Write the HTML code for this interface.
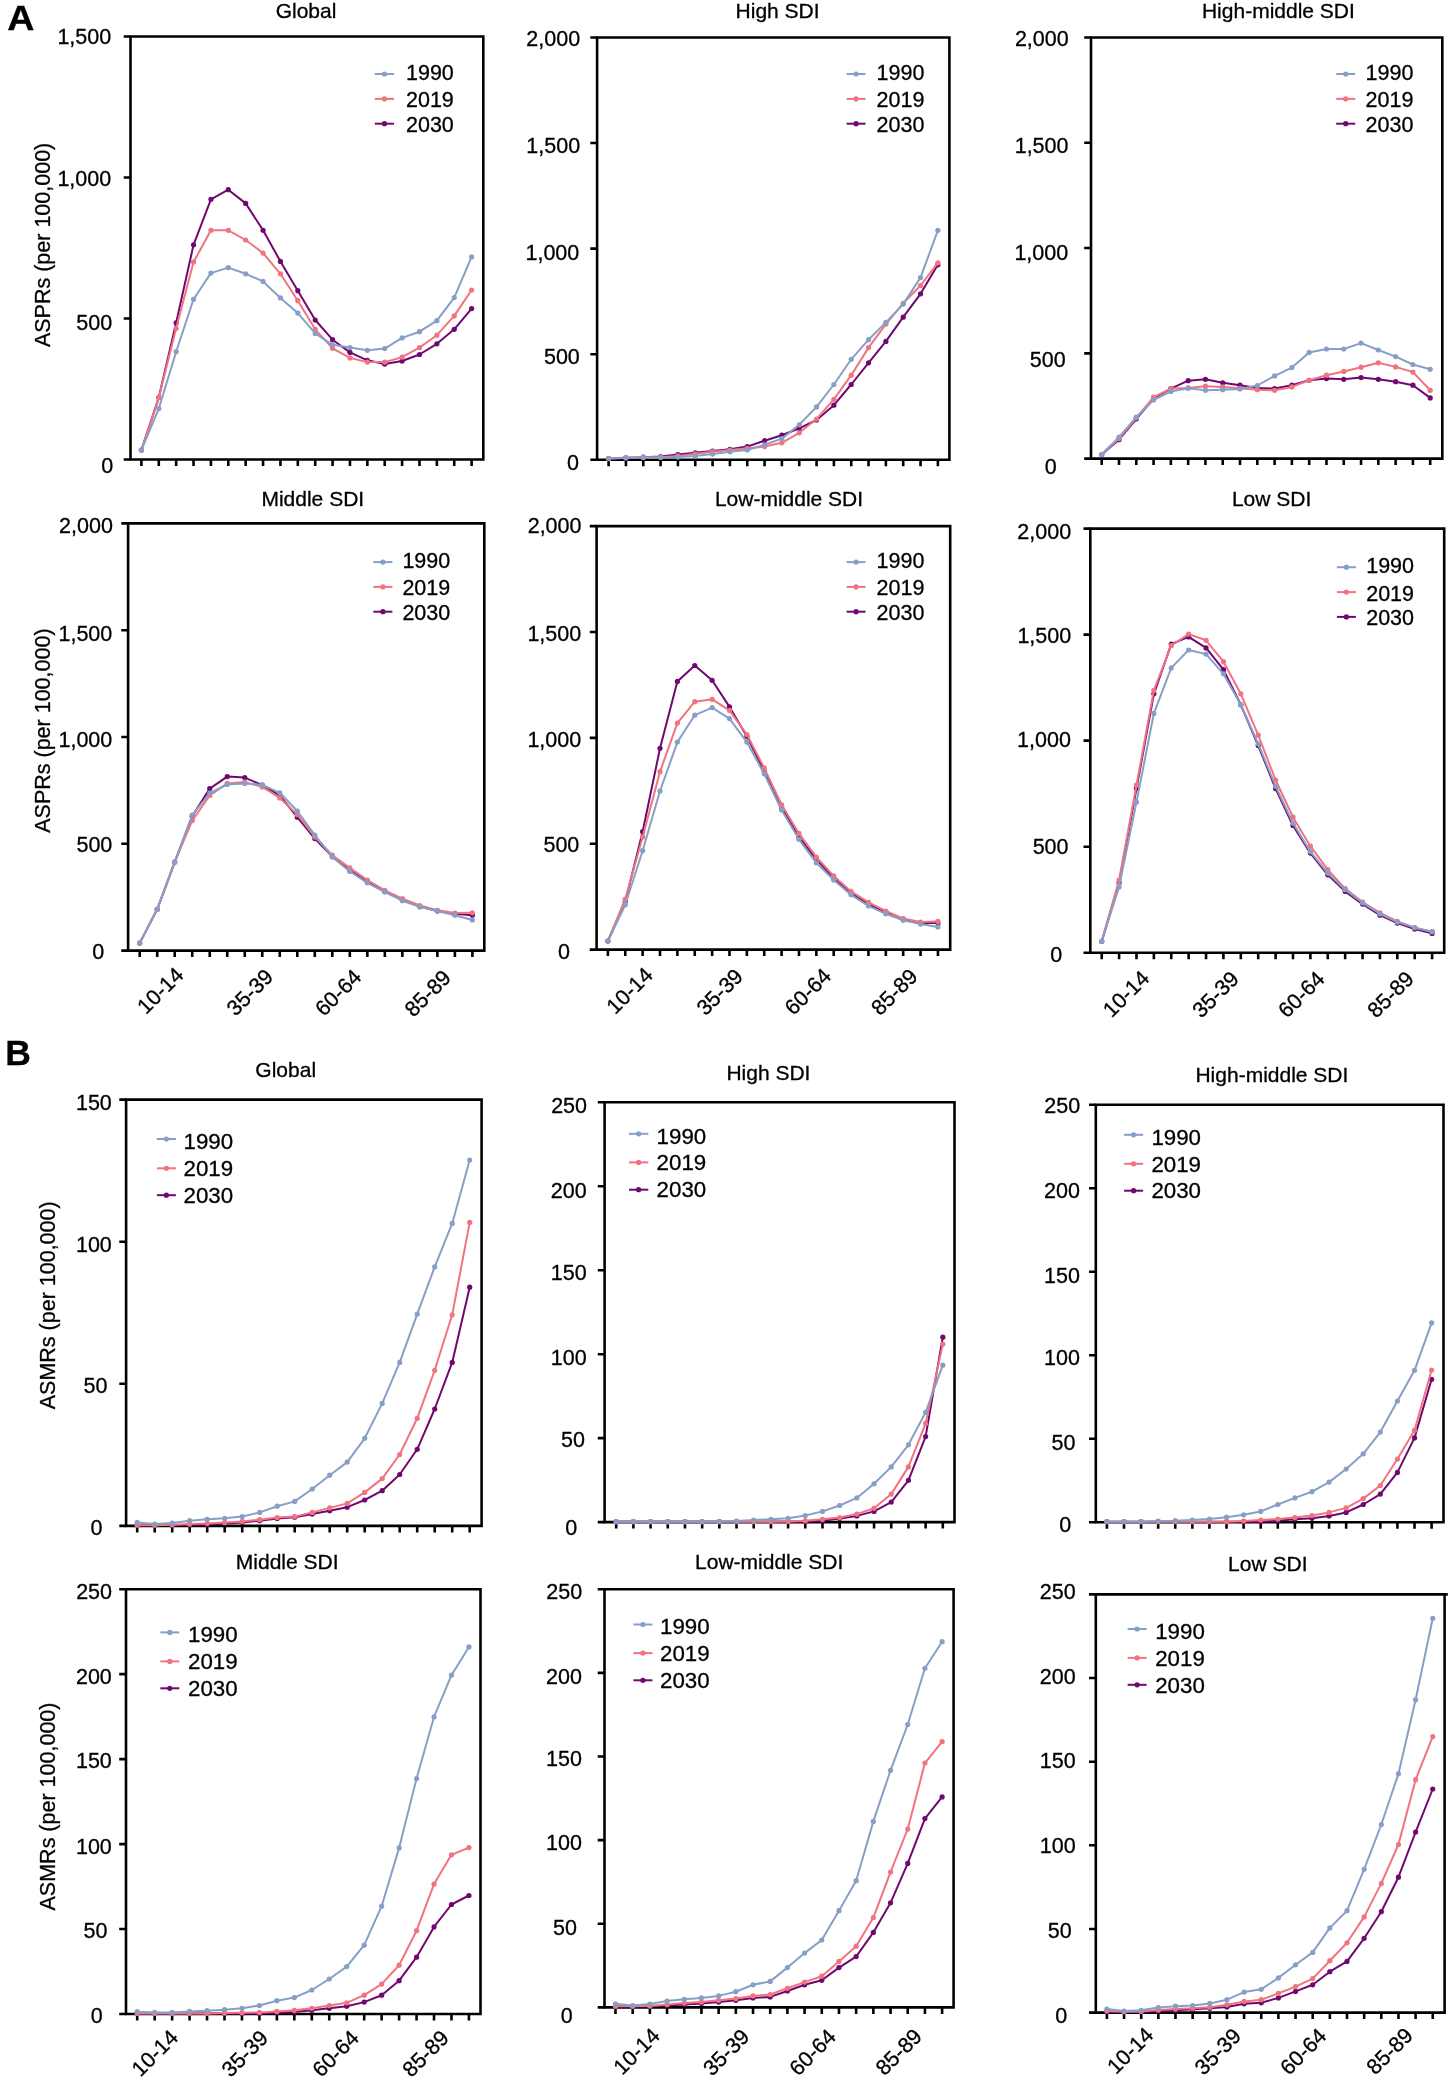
<!DOCTYPE html>
<html><head><meta charset="utf-8"><title>Figure</title>
<style>
html,body{margin:0;padding:0;background:#fff;}
body{width:1450px;height:2082px;overflow:hidden;}
svg{display:block;will-change:transform;}
text{font-family:"Liberation Sans",sans-serif;font-size:21.5px;fill:#000;stroke:#000;stroke-width:0.3px;}
text.big{font-size:35.5px;font-weight:bold;}
.ax{fill:none;stroke:#000;stroke-width:2.6;stroke-linejoin:miter;}
.tk{fill:none;stroke:#000;stroke-width:2.6;}
</style></head><body>
<svg width="1450" height="2082" viewBox="0 0 1450 2082">
<rect width="1450" height="2082" fill="#fff"/>
<text transform="translate(7.3 30) scale(1.06 1)" class="big">A</text>
<text transform="translate(5.3 1064.8)" class="big">B</text>
<text x="306" y="18.4" text-anchor="middle" style="font-size:21px">Global</text>
<path d="M130.5 36.5H483.3V459.5H130.5Z" class="ax"/>
<text x="113.3" y="473.45" text-anchor="end">0</text>
<text x="112.1" y="329.7" text-anchor="end">500</text>
<text x="111.2" y="186.2" text-anchor="end">1,000</text>
<text x="111.2" y="43.8" text-anchor="end">1,500</text>
<path d="M123.7 459.5H130.5M123.7 318.5H130.5M123.7 177.5H130.5M123.7 36.5H130.5M141.4 459.5V466M158.78 459.5V466M176.16 459.5V466M193.54 459.5V466M210.92 459.5V466M228.3 459.5V466M245.68 459.5V466M263.06 459.5V466M280.44 459.5V466M297.82 459.5V466M315.2 459.5V466M332.58 459.5V466M349.96 459.5V466M367.34 459.5V466M384.72 459.5V466M402.1 459.5V466M419.48 459.5V466M436.86 459.5V466M454.24 459.5V466M471.62 459.5V466" class="tk"/>
<text transform="translate(50 244.9) rotate(-90)" text-anchor="middle">ASPRs (per 100,000)</text>
<polyline points="141.4,450 158.78,397.6 176.16,322.8 193.54,244.8 210.92,199.3 228.3,189.7 245.68,203.4 263.06,230.3 280.44,261.4 297.82,290.7 315.2,320 332.58,339.7 349.96,352.4 367.34,360.3 384.72,364.1 402.1,361 419.48,354.5 436.86,343.8 454.24,329.3 471.62,308.6" fill="none" stroke="#700870" stroke-width="2.0" stroke-linejoin="round"/>
<g fill="#700870"><circle cx="141.4" cy="450" r="2.6"/><circle cx="158.78" cy="397.6" r="2.6"/><circle cx="176.16" cy="322.8" r="2.6"/><circle cx="193.54" cy="244.8" r="2.6"/><circle cx="210.92" cy="199.3" r="2.6"/><circle cx="228.3" cy="189.7" r="2.6"/><circle cx="245.68" cy="203.4" r="2.6"/><circle cx="263.06" cy="230.3" r="2.6"/><circle cx="280.44" cy="261.4" r="2.6"/><circle cx="297.82" cy="290.7" r="2.6"/><circle cx="315.2" cy="320" r="2.6"/><circle cx="332.58" cy="339.7" r="2.6"/><circle cx="349.96" cy="352.4" r="2.6"/><circle cx="367.34" cy="360.3" r="2.6"/><circle cx="384.72" cy="364.1" r="2.6"/><circle cx="402.1" cy="361" r="2.6"/><circle cx="419.48" cy="354.5" r="2.6"/><circle cx="436.86" cy="343.8" r="2.6"/><circle cx="454.24" cy="329.3" r="2.6"/><circle cx="471.62" cy="308.6" r="2.6"/></g>
<polyline points="141.4,450 158.78,397.6 176.16,328.3 193.54,262.1 210.92,230.3 228.3,230.3 245.68,240 263.06,253.1 280.44,273.8 297.82,300.7 315.2,329.3 332.58,348.3 349.96,357.9 367.34,362.1 384.72,362.1 402.1,357.2 419.48,347.6 436.86,335.2 454.24,315.9 471.62,290" fill="none" stroke="#f0737f" stroke-width="2.0" stroke-linejoin="round"/>
<g fill="#f0737f"><circle cx="141.4" cy="450" r="2.6"/><circle cx="158.78" cy="397.6" r="2.6"/><circle cx="176.16" cy="328.3" r="2.6"/><circle cx="193.54" cy="262.1" r="2.6"/><circle cx="210.92" cy="230.3" r="2.6"/><circle cx="228.3" cy="230.3" r="2.6"/><circle cx="245.68" cy="240" r="2.6"/><circle cx="263.06" cy="253.1" r="2.6"/><circle cx="280.44" cy="273.8" r="2.6"/><circle cx="297.82" cy="300.7" r="2.6"/><circle cx="315.2" cy="329.3" r="2.6"/><circle cx="332.58" cy="348.3" r="2.6"/><circle cx="349.96" cy="357.9" r="2.6"/><circle cx="367.34" cy="362.1" r="2.6"/><circle cx="384.72" cy="362.1" r="2.6"/><circle cx="402.1" cy="357.2" r="2.6"/><circle cx="419.48" cy="347.6" r="2.6"/><circle cx="436.86" cy="335.2" r="2.6"/><circle cx="454.24" cy="315.9" r="2.6"/><circle cx="471.62" cy="290" r="2.6"/></g>
<polyline points="141.4,450 158.78,408.6 176.16,351.7 193.54,299.3 210.92,273.1 228.3,267.6 245.68,273.8 263.06,281.4 280.44,297.9 297.82,313.1 315.2,333.4 332.58,344.8 349.96,347.6 367.34,350.3 384.72,348.6 402.1,337.9 419.48,331.7 436.86,320.7 454.24,297.6 471.62,256.9" fill="none" stroke="#879fc6" stroke-width="2.0" stroke-linejoin="round"/>
<g fill="#879fc6"><circle cx="141.4" cy="450" r="2.6"/><circle cx="158.78" cy="408.6" r="2.6"/><circle cx="176.16" cy="351.7" r="2.6"/><circle cx="193.54" cy="299.3" r="2.6"/><circle cx="210.92" cy="273.1" r="2.6"/><circle cx="228.3" cy="267.6" r="2.6"/><circle cx="245.68" cy="273.8" r="2.6"/><circle cx="263.06" cy="281.4" r="2.6"/><circle cx="280.44" cy="297.9" r="2.6"/><circle cx="297.82" cy="313.1" r="2.6"/><circle cx="315.2" cy="333.4" r="2.6"/><circle cx="332.58" cy="344.8" r="2.6"/><circle cx="349.96" cy="347.6" r="2.6"/><circle cx="367.34" cy="350.3" r="2.6"/><circle cx="384.72" cy="348.6" r="2.6"/><circle cx="402.1" cy="337.9" r="2.6"/><circle cx="419.48" cy="331.7" r="2.6"/><circle cx="436.86" cy="320.7" r="2.6"/><circle cx="454.24" cy="297.6" r="2.6"/><circle cx="471.62" cy="256.9" r="2.6"/></g>
<path d="M374.8 74H394.1" stroke="#879fc6" stroke-width="2.0"/>
<circle cx="384.45" cy="74" r="2.6" fill="#879fc6"/>
<text x="406" y="80.1" style="font-size:21.5px">1990</text>
<path d="M374.8 98.9H394.1" stroke="#f0737f" stroke-width="2.0"/>
<circle cx="384.45" cy="98.9" r="2.6" fill="#f0737f"/>
<text x="406" y="107.4" style="font-size:21.5px">2019</text>
<path d="M374.8 123.7H394.1" stroke="#700870" stroke-width="2.0"/>
<circle cx="384.45" cy="123.7" r="2.6" fill="#700870"/>
<text x="406" y="131.6" style="font-size:21.5px">2030</text>
<text x="777.6" y="18.4" text-anchor="middle" style="font-size:21px">High SDI</text>
<path d="M597.1 37.5H949.4V459.8H597.1Z" class="ax"/>
<text x="579" y="469.7" text-anchor="end">0</text>
<text x="579.8" y="363.6" text-anchor="end">500</text>
<text x="579.3" y="259.5" text-anchor="end">1,000</text>
<text x="580.1" y="152.7" text-anchor="end">1,500</text>
<text x="580.1" y="45.65" text-anchor="end">2,000</text>
<path d="M590.3 459.8H597.1M590.3 354.23H597.1M590.3 248.65H597.1M590.3 143.07H597.1M590.3 37.5H597.1M608.6 459.8V466.3M625.93 459.8V466.3M643.26 459.8V466.3M660.59 459.8V466.3M677.92 459.8V466.3M695.25 459.8V466.3M712.58 459.8V466.3M729.91 459.8V466.3M747.24 459.8V466.3M764.57 459.8V466.3M781.9 459.8V466.3M799.23 459.8V466.3M816.56 459.8V466.3M833.89 459.8V466.3M851.22 459.8V466.3M868.55 459.8V466.3M885.88 459.8V466.3M903.21 459.8V466.3M920.54 459.8V466.3M937.87 459.8V466.3" class="tk"/>
<polyline points="608.6,458.6 625.93,457.9 643.26,457.2 660.59,456.6 677.92,454.5 695.25,452.8 712.58,451 729.91,449.3 747.24,446.6 764.57,440.7 781.9,435.2 799.23,428.3 816.56,420 833.89,405.2 851.22,384.5 868.55,362.8 885.88,341.4 903.21,317.2 920.54,293.8 937.87,264.8" fill="none" stroke="#700870" stroke-width="2.0" stroke-linejoin="round"/>
<g fill="#700870"><circle cx="608.6" cy="458.6" r="2.6"/><circle cx="625.93" cy="457.9" r="2.6"/><circle cx="643.26" cy="457.2" r="2.6"/><circle cx="660.59" cy="456.6" r="2.6"/><circle cx="677.92" cy="454.5" r="2.6"/><circle cx="695.25" cy="452.8" r="2.6"/><circle cx="712.58" cy="451" r="2.6"/><circle cx="729.91" cy="449.3" r="2.6"/><circle cx="747.24" cy="446.6" r="2.6"/><circle cx="764.57" cy="440.7" r="2.6"/><circle cx="781.9" cy="435.2" r="2.6"/><circle cx="799.23" cy="428.3" r="2.6"/><circle cx="816.56" cy="420" r="2.6"/><circle cx="833.89" cy="405.2" r="2.6"/><circle cx="851.22" cy="384.5" r="2.6"/><circle cx="868.55" cy="362.8" r="2.6"/><circle cx="885.88" cy="341.4" r="2.6"/><circle cx="903.21" cy="317.2" r="2.6"/><circle cx="920.54" cy="293.8" r="2.6"/><circle cx="937.87" cy="264.8" r="2.6"/></g>
<polyline points="608.6,458.6 625.93,457.9 643.26,457.6 660.59,457.2 677.92,455.9 695.25,453.8 712.58,451.7 729.91,450 747.24,448.3 764.57,446.6 781.9,442.8 799.23,432.8 816.56,419 833.89,399.3 851.22,375.2 868.55,347.6 885.88,324.1 903.21,303.4 920.54,285.5 937.87,262.8" fill="none" stroke="#f0737f" stroke-width="2.0" stroke-linejoin="round"/>
<g fill="#f0737f"><circle cx="608.6" cy="458.6" r="2.6"/><circle cx="625.93" cy="457.9" r="2.6"/><circle cx="643.26" cy="457.6" r="2.6"/><circle cx="660.59" cy="457.2" r="2.6"/><circle cx="677.92" cy="455.9" r="2.6"/><circle cx="695.25" cy="453.8" r="2.6"/><circle cx="712.58" cy="451.7" r="2.6"/><circle cx="729.91" cy="450" r="2.6"/><circle cx="747.24" cy="448.3" r="2.6"/><circle cx="764.57" cy="446.6" r="2.6"/><circle cx="781.9" cy="442.8" r="2.6"/><circle cx="799.23" cy="432.8" r="2.6"/><circle cx="816.56" cy="419" r="2.6"/><circle cx="833.89" cy="399.3" r="2.6"/><circle cx="851.22" cy="375.2" r="2.6"/><circle cx="868.55" cy="347.6" r="2.6"/><circle cx="885.88" cy="324.1" r="2.6"/><circle cx="903.21" cy="303.4" r="2.6"/><circle cx="920.54" cy="285.5" r="2.6"/><circle cx="937.87" cy="262.8" r="2.6"/></g>
<polyline points="608.6,458.6 625.93,457.6 643.26,457.2 660.59,457.2 677.92,456.9 695.25,455.9 712.58,454.1 729.91,451.7 747.24,450 764.57,444.8 781.9,438.6 799.23,424.8 816.56,406.9 833.89,384.5 851.22,359.3 868.55,339.7 885.88,322.4 903.21,304.1 920.54,277.6 937.87,230.3" fill="none" stroke="#879fc6" stroke-width="2.0" stroke-linejoin="round"/>
<g fill="#879fc6"><circle cx="608.6" cy="458.6" r="2.6"/><circle cx="625.93" cy="457.6" r="2.6"/><circle cx="643.26" cy="457.2" r="2.6"/><circle cx="660.59" cy="457.2" r="2.6"/><circle cx="677.92" cy="456.9" r="2.6"/><circle cx="695.25" cy="455.9" r="2.6"/><circle cx="712.58" cy="454.1" r="2.6"/><circle cx="729.91" cy="451.7" r="2.6"/><circle cx="747.24" cy="450" r="2.6"/><circle cx="764.57" cy="444.8" r="2.6"/><circle cx="781.9" cy="438.6" r="2.6"/><circle cx="799.23" cy="424.8" r="2.6"/><circle cx="816.56" cy="406.9" r="2.6"/><circle cx="833.89" cy="384.5" r="2.6"/><circle cx="851.22" cy="359.3" r="2.6"/><circle cx="868.55" cy="339.7" r="2.6"/><circle cx="885.88" cy="322.4" r="2.6"/><circle cx="903.21" cy="304.1" r="2.6"/><circle cx="920.54" cy="277.6" r="2.6"/><circle cx="937.87" cy="230.3" r="2.6"/></g>
<path d="M846.6 74H865.5" stroke="#879fc6" stroke-width="2.0"/>
<circle cx="856.05" cy="74" r="2.6" fill="#879fc6"/>
<text x="876.6" y="80.1" style="font-size:21.5px">1990</text>
<path d="M846.6 98.9H865.5" stroke="#f0737f" stroke-width="2.0"/>
<circle cx="856.05" cy="98.9" r="2.6" fill="#f0737f"/>
<text x="876.6" y="107.4" style="font-size:21.5px">2019</text>
<path d="M846.6 123.7H865.5" stroke="#700870" stroke-width="2.0"/>
<circle cx="856.05" cy="123.7" r="2.6" fill="#700870"/>
<text x="876.6" y="131.6" style="font-size:21.5px">2030</text>
<text x="1278.4" y="18.4" text-anchor="middle" style="font-size:21px">High-middle SDI</text>
<path d="M1091 37.5H1442.3V458.6H1091Z" class="ax"/>
<text x="1056.7" y="474.2" text-anchor="end">0</text>
<text x="1065.7" y="366.7" text-anchor="end">500</text>
<text x="1068.2" y="259.7" text-anchor="end">1,000</text>
<text x="1068.5" y="152.8" text-anchor="end">1,500</text>
<text x="1068.7" y="45.65" text-anchor="end">2,000</text>
<path d="M1084.2 458.6H1091M1084.2 353.33H1091M1084.2 248.05H1091M1084.2 142.78H1091M1084.2 37.5H1091M1101.7 458.6V465.1M1118.99 458.6V465.1M1136.28 458.6V465.1M1153.57 458.6V465.1M1170.86 458.6V465.1M1188.15 458.6V465.1M1205.44 458.6V465.1M1222.73 458.6V465.1M1240.02 458.6V465.1M1257.31 458.6V465.1M1274.6 458.6V465.1M1291.89 458.6V465.1M1309.18 458.6V465.1M1326.47 458.6V465.1M1343.76 458.6V465.1M1361.05 458.6V465.1M1378.34 458.6V465.1M1395.63 458.6V465.1M1412.92 458.6V465.1M1430.21 458.6V465.1" class="tk"/>
<polyline points="1101.7,454.5 1118.99,439.7 1136.28,419 1153.57,398.3 1170.86,388.6 1188.15,380.7 1205.44,379.3 1222.73,382.8 1240.02,385.2 1257.31,387.9 1274.6,388.6 1291.89,385.2 1309.18,380.3 1326.47,378.6 1343.76,379.3 1361.05,377.6 1378.34,379.3 1395.63,381.7 1412.92,385.2 1430.21,397.9" fill="none" stroke="#700870" stroke-width="2.0" stroke-linejoin="round"/>
<g fill="#700870"><circle cx="1101.7" cy="454.5" r="2.6"/><circle cx="1118.99" cy="439.7" r="2.6"/><circle cx="1136.28" cy="419" r="2.6"/><circle cx="1153.57" cy="398.3" r="2.6"/><circle cx="1170.86" cy="388.6" r="2.6"/><circle cx="1188.15" cy="380.7" r="2.6"/><circle cx="1205.44" cy="379.3" r="2.6"/><circle cx="1222.73" cy="382.8" r="2.6"/><circle cx="1240.02" cy="385.2" r="2.6"/><circle cx="1257.31" cy="387.9" r="2.6"/><circle cx="1274.6" cy="388.6" r="2.6"/><circle cx="1291.89" cy="385.2" r="2.6"/><circle cx="1309.18" cy="380.3" r="2.6"/><circle cx="1326.47" cy="378.6" r="2.6"/><circle cx="1343.76" cy="379.3" r="2.6"/><circle cx="1361.05" cy="377.6" r="2.6"/><circle cx="1378.34" cy="379.3" r="2.6"/><circle cx="1395.63" cy="381.7" r="2.6"/><circle cx="1412.92" cy="385.2" r="2.6"/><circle cx="1430.21" cy="397.9" r="2.6"/></g>
<polyline points="1101.7,454.5 1118.99,438.6 1136.28,417.9 1153.57,397.2 1170.86,388.6 1188.15,387.9 1205.44,386.2 1222.73,386.9 1240.02,388.3 1257.31,389.7 1274.6,390.3 1291.89,386.9 1309.18,380.3 1326.47,375.2 1343.76,371.4 1361.05,367.2 1378.34,362.8 1395.63,366.9 1412.92,372.1 1430.21,390.3" fill="none" stroke="#f0737f" stroke-width="2.0" stroke-linejoin="round"/>
<g fill="#f0737f"><circle cx="1101.7" cy="454.5" r="2.6"/><circle cx="1118.99" cy="438.6" r="2.6"/><circle cx="1136.28" cy="417.9" r="2.6"/><circle cx="1153.57" cy="397.2" r="2.6"/><circle cx="1170.86" cy="388.6" r="2.6"/><circle cx="1188.15" cy="387.9" r="2.6"/><circle cx="1205.44" cy="386.2" r="2.6"/><circle cx="1222.73" cy="386.9" r="2.6"/><circle cx="1240.02" cy="388.3" r="2.6"/><circle cx="1257.31" cy="389.7" r="2.6"/><circle cx="1274.6" cy="390.3" r="2.6"/><circle cx="1291.89" cy="386.9" r="2.6"/><circle cx="1309.18" cy="380.3" r="2.6"/><circle cx="1326.47" cy="375.2" r="2.6"/><circle cx="1343.76" cy="371.4" r="2.6"/><circle cx="1361.05" cy="367.2" r="2.6"/><circle cx="1378.34" cy="362.8" r="2.6"/><circle cx="1395.63" cy="366.9" r="2.6"/><circle cx="1412.92" cy="372.1" r="2.6"/><circle cx="1430.21" cy="390.3" r="2.6"/></g>
<polyline points="1101.7,454.5 1118.99,437.2 1136.28,417.2 1153.57,400 1170.86,391.4 1188.15,388.3 1205.44,390.3 1222.73,389.7 1240.02,389 1257.31,385.5 1274.6,375.9 1291.89,367.6 1309.18,352.4 1326.47,349 1343.76,349 1361.05,343.1 1378.34,350 1395.63,356.6 1412.92,364.5 1430.21,369.3" fill="none" stroke="#879fc6" stroke-width="2.0" stroke-linejoin="round"/>
<g fill="#879fc6"><circle cx="1101.7" cy="454.5" r="2.6"/><circle cx="1118.99" cy="437.2" r="2.6"/><circle cx="1136.28" cy="417.2" r="2.6"/><circle cx="1153.57" cy="400" r="2.6"/><circle cx="1170.86" cy="391.4" r="2.6"/><circle cx="1188.15" cy="388.3" r="2.6"/><circle cx="1205.44" cy="390.3" r="2.6"/><circle cx="1222.73" cy="389.7" r="2.6"/><circle cx="1240.02" cy="389" r="2.6"/><circle cx="1257.31" cy="385.5" r="2.6"/><circle cx="1274.6" cy="375.9" r="2.6"/><circle cx="1291.89" cy="367.6" r="2.6"/><circle cx="1309.18" cy="352.4" r="2.6"/><circle cx="1326.47" cy="349" r="2.6"/><circle cx="1343.76" cy="349" r="2.6"/><circle cx="1361.05" cy="343.1" r="2.6"/><circle cx="1378.34" cy="350" r="2.6"/><circle cx="1395.63" cy="356.6" r="2.6"/><circle cx="1412.92" cy="364.5" r="2.6"/><circle cx="1430.21" cy="369.3" r="2.6"/></g>
<path d="M1336.2 74H1355.2" stroke="#879fc6" stroke-width="2.0"/>
<circle cx="1345.7" cy="74" r="2.6" fill="#879fc6"/>
<text x="1365.6" y="80.1" style="font-size:21.5px">1990</text>
<path d="M1336.2 98.9H1355.2" stroke="#f0737f" stroke-width="2.0"/>
<circle cx="1345.7" cy="98.9" r="2.6" fill="#f0737f"/>
<text x="1365.6" y="107.4" style="font-size:21.5px">2019</text>
<path d="M1336.2 123.7H1355.2" stroke="#700870" stroke-width="2.0"/>
<circle cx="1345.7" cy="123.7" r="2.6" fill="#700870"/>
<text x="1365.6" y="131.6" style="font-size:21.5px">2030</text>
<text x="312.8" y="505.7" text-anchor="middle" style="font-size:21px">Middle SDI</text>
<path d="M128.1 523.4H484.3V950.6H128.1Z" class="ax"/>
<text x="104.2" y="959.3" text-anchor="end">0</text>
<text x="112.3" y="852" text-anchor="end">500</text>
<text x="112.3" y="747.3" text-anchor="end">1,000</text>
<text x="112.3" y="640.7" text-anchor="end">1,500</text>
<text x="112.9" y="533.2" text-anchor="end">2,000</text>
<path d="M121.3 950.6H128.1M121.3 843.8H128.1M121.3 737H128.1M121.3 630.2H128.1M121.3 523.4H128.1M139.7 950.6V957.1M157.21 950.6V957.1M174.72 950.6V957.1M192.23 950.6V957.1M209.74 950.6V957.1M227.25 950.6V957.1M244.76 950.6V957.1M262.27 950.6V957.1M279.78 950.6V957.1M297.29 950.6V957.1M314.8 950.6V957.1M332.31 950.6V957.1M349.82 950.6V957.1M367.33 950.6V957.1M384.84 950.6V957.1M402.35 950.6V957.1M419.86 950.6V957.1M437.37 950.6V957.1M454.88 950.6V957.1M472.39 950.6V957.1" class="tk"/>
<text transform="translate(50 730.6) rotate(-90)" text-anchor="middle">ASPRs (per 100,000)</text>
<text transform="translate(184.95 976.25) rotate(-45)" text-anchor="end">10-14</text>
<text transform="translate(274.45 978.15) rotate(-45)" text-anchor="end">35-39</text>
<text transform="translate(362.8 978.4) rotate(-45)" text-anchor="end">60-64</text>
<text transform="translate(452.3 979.1) rotate(-45)" text-anchor="end">85-89</text>
<polyline points="139.7,943.1 157.21,909.3 174.72,862.1 192.23,816.2 209.74,788.6 227.25,776.6 244.76,777.6 262.27,785.2 279.78,795.5 297.29,817.2 314.8,838.6 332.31,856.6 349.82,870.3 367.33,881.7 384.84,891.4 402.35,899.7 419.86,906.6 437.37,911 454.88,913.8 472.39,915.2" fill="none" stroke="#700870" stroke-width="2.0" stroke-linejoin="round"/>
<g fill="#700870"><circle cx="139.7" cy="943.1" r="2.6"/><circle cx="157.21" cy="909.3" r="2.6"/><circle cx="174.72" cy="862.1" r="2.6"/><circle cx="192.23" cy="816.2" r="2.6"/><circle cx="209.74" cy="788.6" r="2.6"/><circle cx="227.25" cy="776.6" r="2.6"/><circle cx="244.76" cy="777.6" r="2.6"/><circle cx="262.27" cy="785.2" r="2.6"/><circle cx="279.78" cy="795.5" r="2.6"/><circle cx="297.29" cy="817.2" r="2.6"/><circle cx="314.8" cy="838.6" r="2.6"/><circle cx="332.31" cy="856.6" r="2.6"/><circle cx="349.82" cy="870.3" r="2.6"/><circle cx="367.33" cy="881.7" r="2.6"/><circle cx="384.84" cy="891.4" r="2.6"/><circle cx="402.35" cy="899.7" r="2.6"/><circle cx="419.86" cy="906.6" r="2.6"/><circle cx="437.37" cy="911" r="2.6"/><circle cx="454.88" cy="913.8" r="2.6"/><circle cx="472.39" cy="915.2" r="2.6"/></g>
<polyline points="139.7,943.1 157.21,909.3 174.72,862.1 192.23,820.7 209.74,795.5 227.25,783.4 244.76,782.1 262.27,786.9 279.78,797.9 297.29,814.5 314.8,836.9 332.31,855.2 349.82,867.9 367.33,880 384.84,890.3 402.35,898.6 419.86,905.5 437.37,910.3 454.88,913.1 472.39,912.8" fill="none" stroke="#f0737f" stroke-width="2.0" stroke-linejoin="round"/>
<g fill="#f0737f"><circle cx="139.7" cy="943.1" r="2.6"/><circle cx="157.21" cy="909.3" r="2.6"/><circle cx="174.72" cy="862.1" r="2.6"/><circle cx="192.23" cy="820.7" r="2.6"/><circle cx="209.74" cy="795.5" r="2.6"/><circle cx="227.25" cy="783.4" r="2.6"/><circle cx="244.76" cy="782.1" r="2.6"/><circle cx="262.27" cy="786.9" r="2.6"/><circle cx="279.78" cy="797.9" r="2.6"/><circle cx="297.29" cy="814.5" r="2.6"/><circle cx="314.8" cy="836.9" r="2.6"/><circle cx="332.31" cy="855.2" r="2.6"/><circle cx="349.82" cy="867.9" r="2.6"/><circle cx="367.33" cy="880" r="2.6"/><circle cx="384.84" cy="890.3" r="2.6"/><circle cx="402.35" cy="898.6" r="2.6"/><circle cx="419.86" cy="905.5" r="2.6"/><circle cx="437.37" cy="910.3" r="2.6"/><circle cx="454.88" cy="913.1" r="2.6"/><circle cx="472.39" cy="912.8" r="2.6"/></g>
<polyline points="139.7,943.1 157.21,909.3 174.72,862.1 192.23,815.2 209.74,793.1 227.25,784.5 244.76,783.4 262.27,784.8 279.78,792.8 297.29,811 314.8,835.2 332.31,856.9 349.82,871.4 367.33,882.8 384.84,892.1 402.35,900.7 419.86,906.9 437.37,911 454.88,915.2 472.39,920" fill="none" stroke="#879fc6" stroke-width="2.0" stroke-linejoin="round"/>
<g fill="#879fc6"><circle cx="139.7" cy="943.1" r="2.6"/><circle cx="157.21" cy="909.3" r="2.6"/><circle cx="174.72" cy="862.1" r="2.6"/><circle cx="192.23" cy="815.2" r="2.6"/><circle cx="209.74" cy="793.1" r="2.6"/><circle cx="227.25" cy="784.5" r="2.6"/><circle cx="244.76" cy="783.4" r="2.6"/><circle cx="262.27" cy="784.8" r="2.6"/><circle cx="279.78" cy="792.8" r="2.6"/><circle cx="297.29" cy="811" r="2.6"/><circle cx="314.8" cy="835.2" r="2.6"/><circle cx="332.31" cy="856.9" r="2.6"/><circle cx="349.82" cy="871.4" r="2.6"/><circle cx="367.33" cy="882.8" r="2.6"/><circle cx="384.84" cy="892.1" r="2.6"/><circle cx="402.35" cy="900.7" r="2.6"/><circle cx="419.86" cy="906.9" r="2.6"/><circle cx="437.37" cy="911" r="2.6"/><circle cx="454.88" cy="915.2" r="2.6"/><circle cx="472.39" cy="920" r="2.6"/></g>
<path d="M373.4 562.1H392.4" stroke="#879fc6" stroke-width="2.0"/>
<circle cx="382.9" cy="562.1" r="2.6" fill="#879fc6"/>
<text x="402.4" y="568.2" style="font-size:21.5px">1990</text>
<path d="M373.4 586.9H392.4" stroke="#f0737f" stroke-width="2.0"/>
<circle cx="382.9" cy="586.9" r="2.6" fill="#f0737f"/>
<text x="402.4" y="595.4" style="font-size:21.5px">2019</text>
<path d="M373.4 611.7H392.4" stroke="#700870" stroke-width="2.0"/>
<circle cx="382.9" cy="611.7" r="2.6" fill="#700870"/>
<text x="402.4" y="619.6" style="font-size:21.5px">2030</text>
<text x="789" y="505.7" text-anchor="middle" style="font-size:21px">Low-middle SDI</text>
<path d="M596.6 526.1H950.2V949.6H596.6Z" class="ax"/>
<text x="570" y="959.2" text-anchor="end">0</text>
<text x="579.3" y="852" text-anchor="end">500</text>
<text x="581.2" y="747.3" text-anchor="end">1,000</text>
<text x="581.2" y="640.7" text-anchor="end">1,500</text>
<text x="581.5" y="533.2" text-anchor="end">2,000</text>
<path d="M589.8 949.6H596.6M589.8 843.73H596.6M589.8 737.85H596.6M589.8 631.98H596.6M589.8 526.1H596.6M607.9 949.6V956.1M625.27 949.6V956.1M642.64 949.6V956.1M660.01 949.6V956.1M677.38 949.6V956.1M694.75 949.6V956.1M712.12 949.6V956.1M729.49 949.6V956.1M746.86 949.6V956.1M764.23 949.6V956.1M781.6 949.6V956.1M798.97 949.6V956.1M816.34 949.6V956.1M833.71 949.6V956.1M851.08 949.6V956.1M868.45 949.6V956.1M885.82 949.6V956.1M903.19 949.6V956.1M920.56 949.6V956.1M937.93 949.6V956.1" class="tk"/>
<text transform="translate(654.2 976.3) rotate(-45)" text-anchor="end">10-14</text>
<text transform="translate(744.3 977.7) rotate(-45)" text-anchor="end">35-39</text>
<text transform="translate(832.4 977.3) rotate(-45)" text-anchor="end">60-64</text>
<text transform="translate(918.9 977.7) rotate(-45)" text-anchor="end">85-89</text>
<polyline points="607.9,941 625.27,901.4 642.64,831.7 660.01,748.3 677.38,681.4 694.75,665.5 712.12,680.3 729.49,706.9 746.86,736.2 764.23,771.4 781.6,807.6 798.97,836.9 816.34,859.3 833.71,878.3 851.08,893.1 868.45,904.1 885.82,912.1 903.19,919 920.56,923.1 937.93,923.1" fill="none" stroke="#700870" stroke-width="2.0" stroke-linejoin="round"/>
<g fill="#700870"><circle cx="607.9" cy="941" r="2.6"/><circle cx="625.27" cy="901.4" r="2.6"/><circle cx="642.64" cy="831.7" r="2.6"/><circle cx="660.01" cy="748.3" r="2.6"/><circle cx="677.38" cy="681.4" r="2.6"/><circle cx="694.75" cy="665.5" r="2.6"/><circle cx="712.12" cy="680.3" r="2.6"/><circle cx="729.49" cy="706.9" r="2.6"/><circle cx="746.86" cy="736.2" r="2.6"/><circle cx="764.23" cy="771.4" r="2.6"/><circle cx="781.6" cy="807.6" r="2.6"/><circle cx="798.97" cy="836.9" r="2.6"/><circle cx="816.34" cy="859.3" r="2.6"/><circle cx="833.71" cy="878.3" r="2.6"/><circle cx="851.08" cy="893.1" r="2.6"/><circle cx="868.45" cy="904.1" r="2.6"/><circle cx="885.82" cy="912.1" r="2.6"/><circle cx="903.19" cy="919" r="2.6"/><circle cx="920.56" cy="923.1" r="2.6"/><circle cx="937.93" cy="923.1" r="2.6"/></g>
<polyline points="607.9,941 625.27,899 642.64,836.9 660.01,771.7 677.38,723.1 694.75,701.7 712.12,699.3 729.49,710.3 746.86,734.5 764.23,767.9 781.6,804.8 798.97,833.4 816.34,857.2 833.71,875.9 851.08,891.4 868.45,902.4 885.82,911 903.19,918.6 920.56,922.1 937.93,921.4" fill="none" stroke="#f0737f" stroke-width="2.0" stroke-linejoin="round"/>
<g fill="#f0737f"><circle cx="607.9" cy="941" r="2.6"/><circle cx="625.27" cy="899" r="2.6"/><circle cx="642.64" cy="836.9" r="2.6"/><circle cx="660.01" cy="771.7" r="2.6"/><circle cx="677.38" cy="723.1" r="2.6"/><circle cx="694.75" cy="701.7" r="2.6"/><circle cx="712.12" cy="699.3" r="2.6"/><circle cx="729.49" cy="710.3" r="2.6"/><circle cx="746.86" cy="734.5" r="2.6"/><circle cx="764.23" cy="767.9" r="2.6"/><circle cx="781.6" cy="804.8" r="2.6"/><circle cx="798.97" cy="833.4" r="2.6"/><circle cx="816.34" cy="857.2" r="2.6"/><circle cx="833.71" cy="875.9" r="2.6"/><circle cx="851.08" cy="891.4" r="2.6"/><circle cx="868.45" cy="902.4" r="2.6"/><circle cx="885.82" cy="911" r="2.6"/><circle cx="903.19" cy="918.6" r="2.6"/><circle cx="920.56" cy="922.1" r="2.6"/><circle cx="937.93" cy="921.4" r="2.6"/></g>
<polyline points="607.9,941 625.27,904.8 642.64,850.7 660.01,791 677.38,742.1 694.75,715.2 712.12,707.6 729.49,718.6 746.86,742.1 764.23,773.8 781.6,810 798.97,839.3 816.34,862.8 833.71,880 851.08,894.8 868.45,905.9 885.82,913.8 903.19,920.3 920.56,924.1 937.93,926.9" fill="none" stroke="#879fc6" stroke-width="2.0" stroke-linejoin="round"/>
<g fill="#879fc6"><circle cx="607.9" cy="941" r="2.6"/><circle cx="625.27" cy="904.8" r="2.6"/><circle cx="642.64" cy="850.7" r="2.6"/><circle cx="660.01" cy="791" r="2.6"/><circle cx="677.38" cy="742.1" r="2.6"/><circle cx="694.75" cy="715.2" r="2.6"/><circle cx="712.12" cy="707.6" r="2.6"/><circle cx="729.49" cy="718.6" r="2.6"/><circle cx="746.86" cy="742.1" r="2.6"/><circle cx="764.23" cy="773.8" r="2.6"/><circle cx="781.6" cy="810" r="2.6"/><circle cx="798.97" cy="839.3" r="2.6"/><circle cx="816.34" cy="862.8" r="2.6"/><circle cx="833.71" cy="880" r="2.6"/><circle cx="851.08" cy="894.8" r="2.6"/><circle cx="868.45" cy="905.9" r="2.6"/><circle cx="885.82" cy="913.8" r="2.6"/><circle cx="903.19" cy="920.3" r="2.6"/><circle cx="920.56" cy="924.1" r="2.6"/><circle cx="937.93" cy="926.9" r="2.6"/></g>
<path d="M846.6 562.1H865.5" stroke="#879fc6" stroke-width="2.0"/>
<circle cx="856.05" cy="562.1" r="2.6" fill="#879fc6"/>
<text x="876.6" y="568.2" style="font-size:21.5px">1990</text>
<path d="M846.6 586.9H865.5" stroke="#f0737f" stroke-width="2.0"/>
<circle cx="856.05" cy="586.9" r="2.6" fill="#f0737f"/>
<text x="876.6" y="595.4" style="font-size:21.5px">2019</text>
<path d="M846.6 611.7H865.5" stroke="#700870" stroke-width="2.0"/>
<circle cx="856.05" cy="611.7" r="2.6" fill="#700870"/>
<text x="876.6" y="619.6" style="font-size:21.5px">2030</text>
<text x="1271.6" y="505.7" text-anchor="middle" style="font-size:21px">Low SDI</text>
<path d="M1090.3 528.6H1444.2V952.7H1090.3Z" class="ax"/>
<text x="1062.3" y="961.7" text-anchor="end">0</text>
<text x="1068.5" y="854.4" text-anchor="end">500</text>
<text x="1070.9" y="747.3" text-anchor="end">1,000</text>
<text x="1071.2" y="643.1" text-anchor="end">1,500</text>
<text x="1071.1" y="538.7" text-anchor="end">2,000</text>
<path d="M1083.5 952.7H1090.3M1083.5 846.68H1090.3M1083.5 740.65H1090.3M1083.5 634.62H1090.3M1083.5 528.6H1090.3M1101.7 952.7V959.2M1119.09 952.7V959.2M1136.48 952.7V959.2M1153.87 952.7V959.2M1171.26 952.7V959.2M1188.65 952.7V959.2M1206.04 952.7V959.2M1223.43 952.7V959.2M1240.82 952.7V959.2M1258.21 952.7V959.2M1275.6 952.7V959.2M1292.99 952.7V959.2M1310.38 952.7V959.2M1327.77 952.7V959.2M1345.16 952.7V959.2M1362.55 952.7V959.2M1379.94 952.7V959.2M1397.33 952.7V959.2M1414.72 952.7V959.2M1432.11 952.7V959.2" class="tk"/>
<text transform="translate(1150.6 979.6) rotate(-45)" text-anchor="end">10-14</text>
<text transform="translate(1240.2 980.2) rotate(-45)" text-anchor="end">35-39</text>
<text transform="translate(1326 980.2) rotate(-45)" text-anchor="end">60-64</text>
<text transform="translate(1415.2 980.2) rotate(-45)" text-anchor="end">85-89</text>
<polyline points="1101.7,941.4 1119.09,882.8 1136.48,788.6 1153.87,693.8 1171.26,644.1 1188.65,636.9 1206.04,647.9 1223.43,669.7 1240.82,704.8 1258.21,745.5 1275.6,788.6 1292.99,825.5 1310.38,853.1 1327.77,874.8 1345.16,891.4 1362.55,904.1 1379.94,915.2 1397.33,923.1 1414.72,929 1432.11,933.4" fill="none" stroke="#700870" stroke-width="2.0" stroke-linejoin="round"/>
<g fill="#700870"><circle cx="1101.7" cy="941.4" r="2.6"/><circle cx="1119.09" cy="882.8" r="2.6"/><circle cx="1136.48" cy="788.6" r="2.6"/><circle cx="1153.87" cy="693.8" r="2.6"/><circle cx="1171.26" cy="644.1" r="2.6"/><circle cx="1188.65" cy="636.9" r="2.6"/><circle cx="1206.04" cy="647.9" r="2.6"/><circle cx="1223.43" cy="669.7" r="2.6"/><circle cx="1240.82" cy="704.8" r="2.6"/><circle cx="1258.21" cy="745.5" r="2.6"/><circle cx="1275.6" cy="788.6" r="2.6"/><circle cx="1292.99" cy="825.5" r="2.6"/><circle cx="1310.38" cy="853.1" r="2.6"/><circle cx="1327.77" cy="874.8" r="2.6"/><circle cx="1345.16" cy="891.4" r="2.6"/><circle cx="1362.55" cy="904.1" r="2.6"/><circle cx="1379.94" cy="915.2" r="2.6"/><circle cx="1397.33" cy="923.1" r="2.6"/><circle cx="1414.72" cy="929" r="2.6"/><circle cx="1432.11" cy="933.4" r="2.6"/></g>
<polyline points="1101.7,941.4 1119.09,880 1136.48,785.2 1153.87,690.3 1171.26,645.5 1188.65,634.1 1206.04,640.3 1223.43,661.7 1240.82,693.8 1258.21,735.2 1275.6,780 1292.99,817.2 1310.38,846.2 1327.77,869.7 1345.16,888.6 1362.55,902.1 1379.94,912.8 1397.33,921.4 1414.72,927.6 1432.11,931.7" fill="none" stroke="#f0737f" stroke-width="2.0" stroke-linejoin="round"/>
<g fill="#f0737f"><circle cx="1101.7" cy="941.4" r="2.6"/><circle cx="1119.09" cy="880" r="2.6"/><circle cx="1136.48" cy="785.2" r="2.6"/><circle cx="1153.87" cy="690.3" r="2.6"/><circle cx="1171.26" cy="645.5" r="2.6"/><circle cx="1188.65" cy="634.1" r="2.6"/><circle cx="1206.04" cy="640.3" r="2.6"/><circle cx="1223.43" cy="661.7" r="2.6"/><circle cx="1240.82" cy="693.8" r="2.6"/><circle cx="1258.21" cy="735.2" r="2.6"/><circle cx="1275.6" cy="780" r="2.6"/><circle cx="1292.99" cy="817.2" r="2.6"/><circle cx="1310.38" cy="846.2" r="2.6"/><circle cx="1327.77" cy="869.7" r="2.6"/><circle cx="1345.16" cy="888.6" r="2.6"/><circle cx="1362.55" cy="902.1" r="2.6"/><circle cx="1379.94" cy="912.8" r="2.6"/><circle cx="1397.33" cy="921.4" r="2.6"/><circle cx="1414.72" cy="927.6" r="2.6"/><circle cx="1432.11" cy="931.7" r="2.6"/></g>
<polyline points="1101.7,941.4 1119.09,886.9 1136.48,802.1 1153.87,713.4 1171.26,667.9 1188.65,650 1206.04,654.1 1223.43,673.8 1240.82,704.8 1258.21,743.8 1275.6,786.2 1292.99,823.1 1310.38,851.7 1327.77,873.1 1345.16,889.7 1362.55,902.8 1379.94,913.8 1397.33,922.1 1414.72,927.6 1432.11,931.7" fill="none" stroke="#879fc6" stroke-width="2.0" stroke-linejoin="round"/>
<g fill="#879fc6"><circle cx="1101.7" cy="941.4" r="2.6"/><circle cx="1119.09" cy="886.9" r="2.6"/><circle cx="1136.48" cy="802.1" r="2.6"/><circle cx="1153.87" cy="713.4" r="2.6"/><circle cx="1171.26" cy="667.9" r="2.6"/><circle cx="1188.65" cy="650" r="2.6"/><circle cx="1206.04" cy="654.1" r="2.6"/><circle cx="1223.43" cy="673.8" r="2.6"/><circle cx="1240.82" cy="704.8" r="2.6"/><circle cx="1258.21" cy="743.8" r="2.6"/><circle cx="1275.6" cy="786.2" r="2.6"/><circle cx="1292.99" cy="823.1" r="2.6"/><circle cx="1310.38" cy="851.7" r="2.6"/><circle cx="1327.77" cy="873.1" r="2.6"/><circle cx="1345.16" cy="889.7" r="2.6"/><circle cx="1362.55" cy="902.8" r="2.6"/><circle cx="1379.94" cy="913.8" r="2.6"/><circle cx="1397.33" cy="922.1" r="2.6"/><circle cx="1414.72" cy="927.6" r="2.6"/><circle cx="1432.11" cy="931.7" r="2.6"/></g>
<path d="M1336.9 567.2H1355.9" stroke="#879fc6" stroke-width="2.0"/>
<circle cx="1346.4" cy="567.2" r="2.6" fill="#879fc6"/>
<text x="1366.2" y="573.3" style="font-size:21.5px">1990</text>
<path d="M1336.9 592.1H1355.9" stroke="#f0737f" stroke-width="2.0"/>
<circle cx="1346.4" cy="592.1" r="2.6" fill="#f0737f"/>
<text x="1366.2" y="600.6" style="font-size:21.5px">2019</text>
<path d="M1336.9 616.9H1355.9" stroke="#700870" stroke-width="2.0"/>
<circle cx="1346.4" cy="616.9" r="2.6" fill="#700870"/>
<text x="1366.2" y="624.8" style="font-size:21.5px">2030</text>
<text x="285.7" y="1077" text-anchor="middle" style="font-size:21px">Global</text>
<path d="M126.1 1099.6H481.6V1525.9H126.1Z" class="ax"/>
<text x="102.5" y="1534.7" text-anchor="end">0</text>
<text x="107.4" y="1393.3" text-anchor="end">50</text>
<text x="111.8" y="1251.7" text-anchor="end">100</text>
<text x="111.8" y="1109.9" text-anchor="end">150</text>
<path d="M119.3 1525.9H126.1M119.3 1383.8H126.1M119.3 1241.7H126.1M119.3 1099.6H126.1M137.2 1525.9V1532.4M154.7 1525.9V1532.4M172.2 1525.9V1532.4M189.7 1525.9V1532.4M207.2 1525.9V1532.4M224.7 1525.9V1532.4M242.2 1525.9V1532.4M259.7 1525.9V1532.4M277.2 1525.9V1532.4M294.7 1525.9V1532.4M312.2 1525.9V1532.4M329.7 1525.9V1532.4M347.2 1525.9V1532.4M364.7 1525.9V1532.4M382.2 1525.9V1532.4M399.7 1525.9V1532.4M417.2 1525.9V1532.4M434.7 1525.9V1532.4M452.2 1525.9V1532.4M469.7 1525.9V1532.4" class="tk"/>
<text transform="translate(55 1305.3) rotate(-90)" text-anchor="middle">ASMRs (per 100,000)</text>
<polyline points="137.2,1525.2 154.7,1525.2 172.2,1525.2 189.7,1524.8 207.2,1524.5 224.7,1523.4 242.2,1522.4 259.7,1520.7 277.2,1518.6 294.7,1517.2 312.2,1514.1 329.7,1510.7 347.2,1507.2 364.7,1500 382.2,1490.7 399.7,1474.5 417.2,1449.3 434.7,1409 452.2,1362.4 469.7,1287.2" fill="none" stroke="#700870" stroke-width="2.0" stroke-linejoin="round"/>
<g fill="#700870"><circle cx="137.2" cy="1525.2" r="2.6"/><circle cx="154.7" cy="1525.2" r="2.6"/><circle cx="172.2" cy="1525.2" r="2.6"/><circle cx="189.7" cy="1524.8" r="2.6"/><circle cx="207.2" cy="1524.5" r="2.6"/><circle cx="224.7" cy="1523.4" r="2.6"/><circle cx="242.2" cy="1522.4" r="2.6"/><circle cx="259.7" cy="1520.7" r="2.6"/><circle cx="277.2" cy="1518.6" r="2.6"/><circle cx="294.7" cy="1517.2" r="2.6"/><circle cx="312.2" cy="1514.1" r="2.6"/><circle cx="329.7" cy="1510.7" r="2.6"/><circle cx="347.2" cy="1507.2" r="2.6"/><circle cx="364.7" cy="1500" r="2.6"/><circle cx="382.2" cy="1490.7" r="2.6"/><circle cx="399.7" cy="1474.5" r="2.6"/><circle cx="417.2" cy="1449.3" r="2.6"/><circle cx="434.7" cy="1409" r="2.6"/><circle cx="452.2" cy="1362.4" r="2.6"/><circle cx="469.7" cy="1287.2" r="2.6"/></g>
<polyline points="137.2,1525.2 154.7,1525.2 172.2,1524.8 189.7,1524.1 207.2,1523.4 224.7,1522.4 242.2,1521.4 259.7,1519.7 277.2,1517.6 294.7,1516.6 312.2,1512.4 329.7,1507.9 347.2,1503.4 364.7,1492.4 382.2,1478.6 399.7,1454.5 417.2,1418.3 434.7,1370.3 452.2,1314.8 469.7,1222.4" fill="none" stroke="#f0737f" stroke-width="2.0" stroke-linejoin="round"/>
<g fill="#f0737f"><circle cx="137.2" cy="1525.2" r="2.6"/><circle cx="154.7" cy="1525.2" r="2.6"/><circle cx="172.2" cy="1524.8" r="2.6"/><circle cx="189.7" cy="1524.1" r="2.6"/><circle cx="207.2" cy="1523.4" r="2.6"/><circle cx="224.7" cy="1522.4" r="2.6"/><circle cx="242.2" cy="1521.4" r="2.6"/><circle cx="259.7" cy="1519.7" r="2.6"/><circle cx="277.2" cy="1517.6" r="2.6"/><circle cx="294.7" cy="1516.6" r="2.6"/><circle cx="312.2" cy="1512.4" r="2.6"/><circle cx="329.7" cy="1507.9" r="2.6"/><circle cx="347.2" cy="1503.4" r="2.6"/><circle cx="364.7" cy="1492.4" r="2.6"/><circle cx="382.2" cy="1478.6" r="2.6"/><circle cx="399.7" cy="1454.5" r="2.6"/><circle cx="417.2" cy="1418.3" r="2.6"/><circle cx="434.7" cy="1370.3" r="2.6"/><circle cx="452.2" cy="1314.8" r="2.6"/><circle cx="469.7" cy="1222.4" r="2.6"/></g>
<polyline points="137.2,1522.4 154.7,1524.1 172.2,1523.1 189.7,1520.7 207.2,1519.3 224.7,1518.3 242.2,1516.6 259.7,1512.4 277.2,1506.2 294.7,1501.4 312.2,1489 329.7,1475.2 347.2,1462.1 364.7,1438.3 382.2,1403.4 399.7,1362.4 417.2,1314.1 434.7,1266.9 452.2,1223.4 469.7,1160" fill="none" stroke="#879fc6" stroke-width="2.0" stroke-linejoin="round"/>
<g fill="#879fc6"><circle cx="137.2" cy="1522.4" r="2.6"/><circle cx="154.7" cy="1524.1" r="2.6"/><circle cx="172.2" cy="1523.1" r="2.6"/><circle cx="189.7" cy="1520.7" r="2.6"/><circle cx="207.2" cy="1519.3" r="2.6"/><circle cx="224.7" cy="1518.3" r="2.6"/><circle cx="242.2" cy="1516.6" r="2.6"/><circle cx="259.7" cy="1512.4" r="2.6"/><circle cx="277.2" cy="1506.2" r="2.6"/><circle cx="294.7" cy="1501.4" r="2.6"/><circle cx="312.2" cy="1489" r="2.6"/><circle cx="329.7" cy="1475.2" r="2.6"/><circle cx="347.2" cy="1462.1" r="2.6"/><circle cx="364.7" cy="1438.3" r="2.6"/><circle cx="382.2" cy="1403.4" r="2.6"/><circle cx="399.7" cy="1362.4" r="2.6"/><circle cx="417.2" cy="1314.1" r="2.6"/><circle cx="434.7" cy="1266.9" r="2.6"/><circle cx="452.2" cy="1223.4" r="2.6"/><circle cx="469.7" cy="1160" r="2.6"/></g>
<path d="M156.9 1139H175.9" stroke="#879fc6" stroke-width="2.0"/>
<circle cx="166.4" cy="1139" r="2.6" fill="#879fc6"/>
<text x="183.5" y="1148.78" style="font-size:22.3px">1990</text>
<path d="M156.9 1168.3H175.9" stroke="#f0737f" stroke-width="2.0"/>
<circle cx="166.4" cy="1168.3" r="2.6" fill="#f0737f"/>
<text x="183.5" y="1176.28" style="font-size:22.3px">2019</text>
<path d="M156.9 1195.2H175.9" stroke="#700870" stroke-width="2.0"/>
<circle cx="166.4" cy="1195.2" r="2.6" fill="#700870"/>
<text x="183.5" y="1202.98" style="font-size:22.3px">2030</text>
<text x="768.4" y="1079.7" text-anchor="middle" style="font-size:21px">High SDI</text>
<path d="M604.6 1102.3H954.5V1522.1H604.6Z" class="ax"/>
<text x="577.3" y="1534.6" text-anchor="end">0</text>
<text x="584.9" y="1447" text-anchor="end">50</text>
<text x="586.6" y="1365.1" text-anchor="end">100</text>
<text x="586.6" y="1279.8" text-anchor="end">150</text>
<text x="586.6" y="1198.4" text-anchor="end">200</text>
<text x="587" y="1112.6" text-anchor="end">250</text>
<path d="M597.8 1522.1H604.6M597.8 1438.14H604.6M597.8 1354.18H604.6M597.8 1270.22H604.6M597.8 1186.26H604.6M597.8 1102.3H604.6M616.2 1522.1V1528.6M633.39 1522.1V1528.6M650.58 1522.1V1528.6M667.77 1522.1V1528.6M684.96 1522.1V1528.6M702.15 1522.1V1528.6M719.34 1522.1V1528.6M736.53 1522.1V1528.6M753.72 1522.1V1528.6M770.91 1522.1V1528.6M788.1 1522.1V1528.6M805.29 1522.1V1528.6M822.48 1522.1V1528.6M839.67 1522.1V1528.6M856.86 1522.1V1528.6M874.05 1522.1V1528.6M891.24 1522.1V1528.6M908.43 1522.1V1528.6M925.62 1522.1V1528.6M942.81 1522.1V1528.6" class="tk"/>
<polyline points="616.2,1521.7 633.39,1521.7 650.58,1521.7 667.77,1521.7 684.96,1521.7 702.15,1521.7 719.34,1521.7 736.53,1521.7 753.72,1521.7 770.91,1521.7 788.1,1521.7 805.29,1521.7 822.48,1520.7 839.67,1518.6 856.86,1515.9 874.05,1511.4 891.24,1502.1 908.43,1480.3 925.62,1436.6 942.81,1337.2" fill="none" stroke="#700870" stroke-width="2.0" stroke-linejoin="round"/>
<g fill="#700870"><circle cx="616.2" cy="1521.7" r="2.6"/><circle cx="633.39" cy="1521.7" r="2.6"/><circle cx="650.58" cy="1521.7" r="2.6"/><circle cx="667.77" cy="1521.7" r="2.6"/><circle cx="684.96" cy="1521.7" r="2.6"/><circle cx="702.15" cy="1521.7" r="2.6"/><circle cx="719.34" cy="1521.7" r="2.6"/><circle cx="736.53" cy="1521.7" r="2.6"/><circle cx="753.72" cy="1521.7" r="2.6"/><circle cx="770.91" cy="1521.7" r="2.6"/><circle cx="788.1" cy="1521.7" r="2.6"/><circle cx="805.29" cy="1521.7" r="2.6"/><circle cx="822.48" cy="1520.7" r="2.6"/><circle cx="839.67" cy="1518.6" r="2.6"/><circle cx="856.86" cy="1515.9" r="2.6"/><circle cx="874.05" cy="1511.4" r="2.6"/><circle cx="891.24" cy="1502.1" r="2.6"/><circle cx="908.43" cy="1480.3" r="2.6"/><circle cx="925.62" cy="1436.6" r="2.6"/><circle cx="942.81" cy="1337.2" r="2.6"/></g>
<polyline points="616.2,1521.7 633.39,1521.7 650.58,1521.7 667.77,1521.7 684.96,1521.7 702.15,1521.7 719.34,1521.7 736.53,1521.7 753.72,1521.7 770.91,1521.7 788.1,1521.4 805.29,1520.7 822.48,1519.3 839.67,1517.6 856.86,1514.1 874.05,1508.3 891.24,1494.1 908.43,1466.9 925.62,1423.4 942.81,1344.1" fill="none" stroke="#f0737f" stroke-width="2.0" stroke-linejoin="round"/>
<g fill="#f0737f"><circle cx="616.2" cy="1521.7" r="2.6"/><circle cx="633.39" cy="1521.7" r="2.6"/><circle cx="650.58" cy="1521.7" r="2.6"/><circle cx="667.77" cy="1521.7" r="2.6"/><circle cx="684.96" cy="1521.7" r="2.6"/><circle cx="702.15" cy="1521.7" r="2.6"/><circle cx="719.34" cy="1521.7" r="2.6"/><circle cx="736.53" cy="1521.7" r="2.6"/><circle cx="753.72" cy="1521.7" r="2.6"/><circle cx="770.91" cy="1521.7" r="2.6"/><circle cx="788.1" cy="1521.4" r="2.6"/><circle cx="805.29" cy="1520.7" r="2.6"/><circle cx="822.48" cy="1519.3" r="2.6"/><circle cx="839.67" cy="1517.6" r="2.6"/><circle cx="856.86" cy="1514.1" r="2.6"/><circle cx="874.05" cy="1508.3" r="2.6"/><circle cx="891.24" cy="1494.1" r="2.6"/><circle cx="908.43" cy="1466.9" r="2.6"/><circle cx="925.62" cy="1423.4" r="2.6"/><circle cx="942.81" cy="1344.1" r="2.6"/></g>
<polyline points="616.2,1521.7 633.39,1521.7 650.58,1521.7 667.77,1521.7 684.96,1521.7 702.15,1521.7 719.34,1521.4 736.53,1521 753.72,1520 770.91,1519.3 788.1,1518.3 805.29,1515.5 822.48,1511.4 839.67,1505.5 856.86,1497.9 874.05,1483.8 891.24,1466.9 908.43,1444.8 925.62,1412.4 942.81,1365.2" fill="none" stroke="#879fc6" stroke-width="2.0" stroke-linejoin="round"/>
<g fill="#879fc6"><circle cx="616.2" cy="1521.7" r="2.6"/><circle cx="633.39" cy="1521.7" r="2.6"/><circle cx="650.58" cy="1521.7" r="2.6"/><circle cx="667.77" cy="1521.7" r="2.6"/><circle cx="684.96" cy="1521.7" r="2.6"/><circle cx="702.15" cy="1521.7" r="2.6"/><circle cx="719.34" cy="1521.4" r="2.6"/><circle cx="736.53" cy="1521" r="2.6"/><circle cx="753.72" cy="1520" r="2.6"/><circle cx="770.91" cy="1519.3" r="2.6"/><circle cx="788.1" cy="1518.3" r="2.6"/><circle cx="805.29" cy="1515.5" r="2.6"/><circle cx="822.48" cy="1511.4" r="2.6"/><circle cx="839.67" cy="1505.5" r="2.6"/><circle cx="856.86" cy="1497.9" r="2.6"/><circle cx="874.05" cy="1483.8" r="2.6"/><circle cx="891.24" cy="1466.9" r="2.6"/><circle cx="908.43" cy="1444.8" r="2.6"/><circle cx="925.62" cy="1412.4" r="2.6"/><circle cx="942.81" cy="1365.2" r="2.6"/></g>
<path d="M629 1133.8H648.3" stroke="#879fc6" stroke-width="2.0"/>
<circle cx="638.65" cy="1133.8" r="2.6" fill="#879fc6"/>
<text x="656.6" y="1143.58" style="font-size:22.3px">1990</text>
<path d="M629 1162.4H648.3" stroke="#f0737f" stroke-width="2.0"/>
<circle cx="638.65" cy="1162.4" r="2.6" fill="#f0737f"/>
<text x="656.6" y="1170.38" style="font-size:22.3px">2019</text>
<path d="M629 1189.7H648.3" stroke="#700870" stroke-width="2.0"/>
<circle cx="638.65" cy="1189.7" r="2.6" fill="#700870"/>
<text x="656.6" y="1197.48" style="font-size:22.3px">2030</text>
<text x="1271.9" y="1082" text-anchor="middle" style="font-size:21px">High-middle SDI</text>
<path d="M1095.8 1104.8H1443.5V1522.2H1095.8Z" class="ax"/>
<text x="1071.1" y="1531.9" text-anchor="end">0</text>
<text x="1075.5" y="1449.9" text-anchor="end">50</text>
<text x="1079.9" y="1365.3" text-anchor="end">100</text>
<text x="1079.9" y="1283.2" text-anchor="end">150</text>
<text x="1079.9" y="1198.3" text-anchor="end">200</text>
<text x="1080.1" y="1113.3" text-anchor="end">250</text>
<path d="M1089 1522.2H1095.8M1089 1438.72H1095.8M1089 1355.24H1095.8M1089 1271.76H1095.8M1089 1188.28H1095.8M1089 1104.8H1095.8M1106.9 1522.2V1528.7M1123.99 1522.2V1528.7M1141.08 1522.2V1528.7M1158.17 1522.2V1528.7M1175.26 1522.2V1528.7M1192.35 1522.2V1528.7M1209.44 1522.2V1528.7M1226.53 1522.2V1528.7M1243.62 1522.2V1528.7M1260.71 1522.2V1528.7M1277.8 1522.2V1528.7M1294.89 1522.2V1528.7M1311.98 1522.2V1528.7M1329.07 1522.2V1528.7M1346.16 1522.2V1528.7M1363.25 1522.2V1528.7M1380.34 1522.2V1528.7M1397.43 1522.2V1528.7M1414.52 1522.2V1528.7M1431.61 1522.2V1528.7" class="tk"/>
<polyline points="1106.9,1521.7 1123.99,1521.7 1141.08,1521.7 1158.17,1521.7 1175.26,1521.7 1192.35,1521.7 1209.44,1521.7 1226.53,1521.7 1243.62,1521.7 1260.71,1521.7 1277.8,1520.7 1294.89,1519.3 1311.98,1518.3 1329.07,1515.9 1346.16,1512.4 1363.25,1504.5 1380.34,1494.1 1397.43,1472.4 1414.52,1437.9 1431.61,1379.3" fill="none" stroke="#700870" stroke-width="2.0" stroke-linejoin="round"/>
<g fill="#700870"><circle cx="1106.9" cy="1521.7" r="2.6"/><circle cx="1123.99" cy="1521.7" r="2.6"/><circle cx="1141.08" cy="1521.7" r="2.6"/><circle cx="1158.17" cy="1521.7" r="2.6"/><circle cx="1175.26" cy="1521.7" r="2.6"/><circle cx="1192.35" cy="1521.7" r="2.6"/><circle cx="1209.44" cy="1521.7" r="2.6"/><circle cx="1226.53" cy="1521.7" r="2.6"/><circle cx="1243.62" cy="1521.7" r="2.6"/><circle cx="1260.71" cy="1521.7" r="2.6"/><circle cx="1277.8" cy="1520.7" r="2.6"/><circle cx="1294.89" cy="1519.3" r="2.6"/><circle cx="1311.98" cy="1518.3" r="2.6"/><circle cx="1329.07" cy="1515.9" r="2.6"/><circle cx="1346.16" cy="1512.4" r="2.6"/><circle cx="1363.25" cy="1504.5" r="2.6"/><circle cx="1380.34" cy="1494.1" r="2.6"/><circle cx="1397.43" cy="1472.4" r="2.6"/><circle cx="1414.52" cy="1437.9" r="2.6"/><circle cx="1431.61" cy="1379.3" r="2.6"/></g>
<polyline points="1106.9,1521.7 1123.99,1521.7 1141.08,1521.7 1158.17,1521.7 1175.26,1521.7 1192.35,1521.7 1209.44,1521.7 1226.53,1521.7 1243.62,1521 1260.71,1520 1277.8,1519 1294.89,1517.6 1311.98,1515.5 1329.07,1512.4 1346.16,1507.9 1363.25,1498.6 1380.34,1485.5 1397.43,1459 1414.52,1430.3 1431.61,1370" fill="none" stroke="#f0737f" stroke-width="2.0" stroke-linejoin="round"/>
<g fill="#f0737f"><circle cx="1106.9" cy="1521.7" r="2.6"/><circle cx="1123.99" cy="1521.7" r="2.6"/><circle cx="1141.08" cy="1521.7" r="2.6"/><circle cx="1158.17" cy="1521.7" r="2.6"/><circle cx="1175.26" cy="1521.7" r="2.6"/><circle cx="1192.35" cy="1521.7" r="2.6"/><circle cx="1209.44" cy="1521.7" r="2.6"/><circle cx="1226.53" cy="1521.7" r="2.6"/><circle cx="1243.62" cy="1521" r="2.6"/><circle cx="1260.71" cy="1520" r="2.6"/><circle cx="1277.8" cy="1519" r="2.6"/><circle cx="1294.89" cy="1517.6" r="2.6"/><circle cx="1311.98" cy="1515.5" r="2.6"/><circle cx="1329.07" cy="1512.4" r="2.6"/><circle cx="1346.16" cy="1507.9" r="2.6"/><circle cx="1363.25" cy="1498.6" r="2.6"/><circle cx="1380.34" cy="1485.5" r="2.6"/><circle cx="1397.43" cy="1459" r="2.6"/><circle cx="1414.52" cy="1430.3" r="2.6"/><circle cx="1431.61" cy="1370" r="2.6"/></g>
<polyline points="1106.9,1521.7 1123.99,1521.7 1141.08,1521.7 1158.17,1521 1175.26,1520.7 1192.35,1520 1209.44,1519 1226.53,1517.2 1243.62,1514.8 1260.71,1511.4 1277.8,1504.5 1294.89,1497.9 1311.98,1491.7 1329.07,1482.1 1346.16,1469 1363.25,1453.8 1380.34,1432.1 1397.43,1401 1414.52,1370.3 1431.61,1322.8" fill="none" stroke="#879fc6" stroke-width="2.0" stroke-linejoin="round"/>
<g fill="#879fc6"><circle cx="1106.9" cy="1521.7" r="2.6"/><circle cx="1123.99" cy="1521.7" r="2.6"/><circle cx="1141.08" cy="1521.7" r="2.6"/><circle cx="1158.17" cy="1521" r="2.6"/><circle cx="1175.26" cy="1520.7" r="2.6"/><circle cx="1192.35" cy="1520" r="2.6"/><circle cx="1209.44" cy="1519" r="2.6"/><circle cx="1226.53" cy="1517.2" r="2.6"/><circle cx="1243.62" cy="1514.8" r="2.6"/><circle cx="1260.71" cy="1511.4" r="2.6"/><circle cx="1277.8" cy="1504.5" r="2.6"/><circle cx="1294.89" cy="1497.9" r="2.6"/><circle cx="1311.98" cy="1491.7" r="2.6"/><circle cx="1329.07" cy="1482.1" r="2.6"/><circle cx="1346.16" cy="1469" r="2.6"/><circle cx="1363.25" cy="1453.8" r="2.6"/><circle cx="1380.34" cy="1432.1" r="2.6"/><circle cx="1397.43" cy="1401" r="2.6"/><circle cx="1414.52" cy="1370.3" r="2.6"/><circle cx="1431.61" cy="1322.8" r="2.6"/></g>
<path d="M1124.1 1134.8H1143.1" stroke="#879fc6" stroke-width="2.0"/>
<circle cx="1133.6" cy="1134.8" r="2.6" fill="#879fc6"/>
<text x="1151.4" y="1144.58" style="font-size:22.3px">1990</text>
<path d="M1124.1 1163.8H1143.1" stroke="#f0737f" stroke-width="2.0"/>
<circle cx="1133.6" cy="1163.8" r="2.6" fill="#f0737f"/>
<text x="1151.4" y="1171.78" style="font-size:22.3px">2019</text>
<path d="M1124.1 1190.7H1143.1" stroke="#700870" stroke-width="2.0"/>
<circle cx="1133.6" cy="1190.7" r="2.6" fill="#700870"/>
<text x="1151.4" y="1198.48" style="font-size:22.3px">2030</text>
<text x="287.2" y="1568.8" text-anchor="middle" style="font-size:21px">Middle SDI</text>
<path d="M126 1589.2H480.5V2014H126Z" class="ax"/>
<text x="102.7" y="2022.8" text-anchor="end">0</text>
<text x="107.4" y="1937.7" text-anchor="end">50</text>
<text x="111.8" y="1853.5" text-anchor="end">100</text>
<text x="111.8" y="1768.2" text-anchor="end">150</text>
<text x="111.8" y="1683.7" text-anchor="end">200</text>
<text x="112" y="1598.7" text-anchor="end">250</text>
<path d="M119.2 2014H126M119.2 1929.04H126M119.2 1844.08H126M119.2 1759.12H126M119.2 1674.16H126M119.2 1589.2H126M137.2 2014V2020.5M154.66 2014V2020.5M172.12 2014V2020.5M189.58 2014V2020.5M207.04 2014V2020.5M224.5 2014V2020.5M241.96 2014V2020.5M259.42 2014V2020.5M276.88 2014V2020.5M294.34 2014V2020.5M311.8 2014V2020.5M329.26 2014V2020.5M346.72 2014V2020.5M364.18 2014V2020.5M381.64 2014V2020.5M399.1 2014V2020.5M416.56 2014V2020.5M434.02 2014V2020.5M451.48 2014V2020.5M468.94 2014V2020.5" class="tk"/>
<text transform="translate(55 1806.5) rotate(-90)" text-anchor="middle">ASMRs (per 100,000)</text>
<text transform="translate(179.4 2038.8) rotate(-45)" text-anchor="end">10-14</text>
<text transform="translate(269.5 2039.4) rotate(-45)" text-anchor="end">35-39</text>
<text transform="translate(360.1 2039.4) rotate(-45)" text-anchor="end">60-64</text>
<text transform="translate(450.1 2039.4) rotate(-45)" text-anchor="end">85-89</text>
<polyline points="137.2,2013.4 154.66,2013.4 172.12,2013.4 189.58,2013.4 207.04,2013.4 224.5,2013.4 241.96,2013.4 259.42,2013.4 276.88,2012.8 294.34,2012.1 311.8,2010.3 329.26,2008.3 346.72,2006.2 364.18,2002.1 381.64,1995.2 399.1,1980.7 416.56,1957.2 434.02,1926.9 451.48,1904.5 468.94,1895.5" fill="none" stroke="#700870" stroke-width="2.0" stroke-linejoin="round"/>
<g fill="#700870"><circle cx="137.2" cy="2013.4" r="2.6"/><circle cx="154.66" cy="2013.4" r="2.6"/><circle cx="172.12" cy="2013.4" r="2.6"/><circle cx="189.58" cy="2013.4" r="2.6"/><circle cx="207.04" cy="2013.4" r="2.6"/><circle cx="224.5" cy="2013.4" r="2.6"/><circle cx="241.96" cy="2013.4" r="2.6"/><circle cx="259.42" cy="2013.4" r="2.6"/><circle cx="276.88" cy="2012.8" r="2.6"/><circle cx="294.34" cy="2012.1" r="2.6"/><circle cx="311.8" cy="2010.3" r="2.6"/><circle cx="329.26" cy="2008.3" r="2.6"/><circle cx="346.72" cy="2006.2" r="2.6"/><circle cx="364.18" cy="2002.1" r="2.6"/><circle cx="381.64" cy="1995.2" r="2.6"/><circle cx="399.1" cy="1980.7" r="2.6"/><circle cx="416.56" cy="1957.2" r="2.6"/><circle cx="434.02" cy="1926.9" r="2.6"/><circle cx="451.48" cy="1904.5" r="2.6"/><circle cx="468.94" cy="1895.5" r="2.6"/></g>
<polyline points="137.2,2013.4 154.66,2013.4 172.12,2013.4 189.58,2013.4 207.04,2013.4 224.5,2013.1 241.96,2012.8 259.42,2012.4 276.88,2011.4 294.34,2010.3 311.8,2008.3 329.26,2005.5 346.72,2002.8 364.18,1995.2 381.64,1984.1 399.1,1965.2 416.56,1930.7 434.02,1884.1 451.48,1854.8 468.94,1847.6" fill="none" stroke="#f0737f" stroke-width="2.0" stroke-linejoin="round"/>
<g fill="#f0737f"><circle cx="137.2" cy="2013.4" r="2.6"/><circle cx="154.66" cy="2013.4" r="2.6"/><circle cx="172.12" cy="2013.4" r="2.6"/><circle cx="189.58" cy="2013.4" r="2.6"/><circle cx="207.04" cy="2013.4" r="2.6"/><circle cx="224.5" cy="2013.1" r="2.6"/><circle cx="241.96" cy="2012.8" r="2.6"/><circle cx="259.42" cy="2012.4" r="2.6"/><circle cx="276.88" cy="2011.4" r="2.6"/><circle cx="294.34" cy="2010.3" r="2.6"/><circle cx="311.8" cy="2008.3" r="2.6"/><circle cx="329.26" cy="2005.5" r="2.6"/><circle cx="346.72" cy="2002.8" r="2.6"/><circle cx="364.18" cy="1995.2" r="2.6"/><circle cx="381.64" cy="1984.1" r="2.6"/><circle cx="399.1" cy="1965.2" r="2.6"/><circle cx="416.56" cy="1930.7" r="2.6"/><circle cx="434.02" cy="1884.1" r="2.6"/><circle cx="451.48" cy="1854.8" r="2.6"/><circle cx="468.94" cy="1847.6" r="2.6"/></g>
<polyline points="137.2,2011.7 154.66,2012.4 172.12,2012.4 189.58,2011.4 207.04,2010.7 224.5,2009.7 241.96,2008.3 259.42,2005.5 276.88,2000.7 294.34,1997.6 311.8,1990 329.26,1979 346.72,1966.6 364.18,1945.2 381.64,1906.2 399.1,1847.9 416.56,1778.6 434.02,1716.9 451.48,1675.2 468.94,1646.9" fill="none" stroke="#879fc6" stroke-width="2.0" stroke-linejoin="round"/>
<g fill="#879fc6"><circle cx="137.2" cy="2011.7" r="2.6"/><circle cx="154.66" cy="2012.4" r="2.6"/><circle cx="172.12" cy="2012.4" r="2.6"/><circle cx="189.58" cy="2011.4" r="2.6"/><circle cx="207.04" cy="2010.7" r="2.6"/><circle cx="224.5" cy="2009.7" r="2.6"/><circle cx="241.96" cy="2008.3" r="2.6"/><circle cx="259.42" cy="2005.5" r="2.6"/><circle cx="276.88" cy="2000.7" r="2.6"/><circle cx="294.34" cy="1997.6" r="2.6"/><circle cx="311.8" cy="1990" r="2.6"/><circle cx="329.26" cy="1979" r="2.6"/><circle cx="346.72" cy="1966.6" r="2.6"/><circle cx="364.18" cy="1945.2" r="2.6"/><circle cx="381.64" cy="1906.2" r="2.6"/><circle cx="399.1" cy="1847.9" r="2.6"/><circle cx="416.56" cy="1778.6" r="2.6"/><circle cx="434.02" cy="1716.9" r="2.6"/><circle cx="451.48" cy="1675.2" r="2.6"/><circle cx="468.94" cy="1646.9" r="2.6"/></g>
<path d="M160.3 1632.4H179.3" stroke="#879fc6" stroke-width="2.0"/>
<circle cx="169.8" cy="1632.4" r="2.6" fill="#879fc6"/>
<text x="188" y="1642.18" style="font-size:22.3px">1990</text>
<path d="M160.3 1661.4H179.3" stroke="#f0737f" stroke-width="2.0"/>
<circle cx="169.8" cy="1661.4" r="2.6" fill="#f0737f"/>
<text x="188" y="1669.38" style="font-size:22.3px">2019</text>
<path d="M160.3 1688.3H179.3" stroke="#700870" stroke-width="2.0"/>
<circle cx="169.8" cy="1688.3" r="2.6" fill="#700870"/>
<text x="188" y="1696.08" style="font-size:22.3px">2030</text>
<text x="769.2" y="1568.8" text-anchor="middle" style="font-size:21px">Low-middle SDI</text>
<path d="M604.5 1589.2H953.6V2007.4H604.5Z" class="ax"/>
<text x="572.8" y="2022.7" text-anchor="end">0</text>
<text x="576.9" y="1934.9" text-anchor="end">50</text>
<text x="581.9" y="1850" text-anchor="end">100</text>
<text x="581.9" y="1765.7" text-anchor="end">150</text>
<text x="581.9" y="1683.6" text-anchor="end">200</text>
<text x="582.2" y="1598.7" text-anchor="end">250</text>
<path d="M597.7 2007.4H604.5M597.7 1923.76H604.5M597.7 1840.12H604.5M597.7 1756.48H604.5M597.7 1672.84H604.5M597.7 1589.2H604.5M615.5 2007.4V2013.9M632.69 2007.4V2013.9M649.88 2007.4V2013.9M667.07 2007.4V2013.9M684.26 2007.4V2013.9M701.45 2007.4V2013.9M718.64 2007.4V2013.9M735.83 2007.4V2013.9M753.02 2007.4V2013.9M770.21 2007.4V2013.9M787.4 2007.4V2013.9M804.59 2007.4V2013.9M821.78 2007.4V2013.9M838.97 2007.4V2013.9M856.16 2007.4V2013.9M873.35 2007.4V2013.9M890.54 2007.4V2013.9M907.73 2007.4V2013.9M924.92 2007.4V2013.9M942.11 2007.4V2013.9" class="tk"/>
<text transform="translate(661.2 2037.1) rotate(-45)" text-anchor="end">10-14</text>
<text transform="translate(750.8 2038.1) rotate(-45)" text-anchor="end">35-39</text>
<text transform="translate(837.1 2038.1) rotate(-45)" text-anchor="end">60-64</text>
<text transform="translate(923.3 2037.7) rotate(-45)" text-anchor="end">85-89</text>
<polyline points="615.5,2006.2 632.69,2006.2 649.88,2006.2 667.07,2005.5 684.26,2004.5 701.45,2003.4 718.64,2002.1 735.83,2000.3 753.02,1997.9 770.21,1996.9 787.4,1991 804.59,1984.8 821.78,1980.3 838.97,1967.6 856.16,1956.6 873.35,1932.4 890.54,1902.8 907.73,1863.4 924.92,1818.6 942.11,1796.9" fill="none" stroke="#700870" stroke-width="2.0" stroke-linejoin="round"/>
<g fill="#700870"><circle cx="615.5" cy="2006.2" r="2.6"/><circle cx="632.69" cy="2006.2" r="2.6"/><circle cx="649.88" cy="2006.2" r="2.6"/><circle cx="667.07" cy="2005.5" r="2.6"/><circle cx="684.26" cy="2004.5" r="2.6"/><circle cx="701.45" cy="2003.4" r="2.6"/><circle cx="718.64" cy="2002.1" r="2.6"/><circle cx="735.83" cy="2000.3" r="2.6"/><circle cx="753.02" cy="1997.9" r="2.6"/><circle cx="770.21" cy="1996.9" r="2.6"/><circle cx="787.4" cy="1991" r="2.6"/><circle cx="804.59" cy="1984.8" r="2.6"/><circle cx="821.78" cy="1980.3" r="2.6"/><circle cx="838.97" cy="1967.6" r="2.6"/><circle cx="856.16" cy="1956.6" r="2.6"/><circle cx="873.35" cy="1932.4" r="2.6"/><circle cx="890.54" cy="1902.8" r="2.6"/><circle cx="907.73" cy="1863.4" r="2.6"/><circle cx="924.92" cy="1818.6" r="2.6"/><circle cx="942.11" cy="1796.9" r="2.6"/></g>
<polyline points="615.5,2006.2 632.69,2006.2 649.88,2005.9 667.07,2004.5 684.26,2003.1 701.45,2002.1 718.64,2000.3 735.83,1998.6 753.02,1995.9 770.21,1994.5 787.4,1988.3 804.59,1982.1 821.78,1976.2 838.97,1961.4 856.16,1946.2 873.35,1917.6 890.54,1872.1 907.73,1829 924.92,1763.1 942.11,1741.7" fill="none" stroke="#f0737f" stroke-width="2.0" stroke-linejoin="round"/>
<g fill="#f0737f"><circle cx="615.5" cy="2006.2" r="2.6"/><circle cx="632.69" cy="2006.2" r="2.6"/><circle cx="649.88" cy="2005.9" r="2.6"/><circle cx="667.07" cy="2004.5" r="2.6"/><circle cx="684.26" cy="2003.1" r="2.6"/><circle cx="701.45" cy="2002.1" r="2.6"/><circle cx="718.64" cy="2000.3" r="2.6"/><circle cx="735.83" cy="1998.6" r="2.6"/><circle cx="753.02" cy="1995.9" r="2.6"/><circle cx="770.21" cy="1994.5" r="2.6"/><circle cx="787.4" cy="1988.3" r="2.6"/><circle cx="804.59" cy="1982.1" r="2.6"/><circle cx="821.78" cy="1976.2" r="2.6"/><circle cx="838.97" cy="1961.4" r="2.6"/><circle cx="856.16" cy="1946.2" r="2.6"/><circle cx="873.35" cy="1917.6" r="2.6"/><circle cx="890.54" cy="1872.1" r="2.6"/><circle cx="907.73" cy="1829" r="2.6"/><circle cx="924.92" cy="1763.1" r="2.6"/><circle cx="942.11" cy="1741.7" r="2.6"/></g>
<polyline points="615.5,2003.8 632.69,2005.5 649.88,2004.1 667.07,2001 684.26,1999.3 701.45,1997.9 718.64,1995.9 735.83,1991.7 753.02,1984.8 770.21,1981.4 787.4,1967.6 804.59,1953.1 821.78,1940 838.97,1910.7 856.16,1880.7 873.35,1821.4 890.54,1770.3 907.73,1724.5 924.92,1668.3 942.11,1641.7" fill="none" stroke="#879fc6" stroke-width="2.0" stroke-linejoin="round"/>
<g fill="#879fc6"><circle cx="615.5" cy="2003.8" r="2.6"/><circle cx="632.69" cy="2005.5" r="2.6"/><circle cx="649.88" cy="2004.1" r="2.6"/><circle cx="667.07" cy="2001" r="2.6"/><circle cx="684.26" cy="1999.3" r="2.6"/><circle cx="701.45" cy="1997.9" r="2.6"/><circle cx="718.64" cy="1995.9" r="2.6"/><circle cx="735.83" cy="1991.7" r="2.6"/><circle cx="753.02" cy="1984.8" r="2.6"/><circle cx="770.21" cy="1981.4" r="2.6"/><circle cx="787.4" cy="1967.6" r="2.6"/><circle cx="804.59" cy="1953.1" r="2.6"/><circle cx="821.78" cy="1940" r="2.6"/><circle cx="838.97" cy="1910.7" r="2.6"/><circle cx="856.16" cy="1880.7" r="2.6"/><circle cx="873.35" cy="1821.4" r="2.6"/><circle cx="890.54" cy="1770.3" r="2.6"/><circle cx="907.73" cy="1724.5" r="2.6"/><circle cx="924.92" cy="1668.3" r="2.6"/><circle cx="942.11" cy="1641.7" r="2.6"/></g>
<path d="M633.4 1624.5H652.4" stroke="#879fc6" stroke-width="2.0"/>
<circle cx="642.9" cy="1624.5" r="2.6" fill="#879fc6"/>
<text x="660" y="1634.28" style="font-size:22.3px">1990</text>
<path d="M633.4 1653.1H652.4" stroke="#f0737f" stroke-width="2.0"/>
<circle cx="642.9" cy="1653.1" r="2.6" fill="#f0737f"/>
<text x="660" y="1661.08" style="font-size:22.3px">2019</text>
<path d="M633.4 1680.3H652.4" stroke="#700870" stroke-width="2.0"/>
<circle cx="642.9" cy="1680.3" r="2.6" fill="#700870"/>
<text x="660" y="1688.08" style="font-size:22.3px">2030</text>
<text x="1267.8" y="1571.2" text-anchor="middle" style="font-size:21px">Low SDI</text>
<path d="M1095.8 1594.4H1444.6V2012.6H1095.8Z" class="ax"/>
<path d="M1444.6 1594.4H1447.9" class="ax"/>
<text x="1067.1" y="2022.8" text-anchor="end">0</text>
<text x="1071.6" y="1937.7" text-anchor="end">50</text>
<text x="1075.7" y="1853.3" text-anchor="end">100</text>
<text x="1075.7" y="1768.2" text-anchor="end">150</text>
<text x="1075.7" y="1683.8" text-anchor="end">200</text>
<text x="1075.6" y="1598.7" text-anchor="end">250</text>
<path d="M1089 2012.6H1095.8M1089 1928.96H1095.8M1089 1845.32H1095.8M1089 1761.68H1095.8M1089 1678.04H1095.8M1089 1594.4H1095.8M1106.9 2012.6V2019.1M1124.05 2012.6V2019.1M1141.2 2012.6V2019.1M1158.35 2012.6V2019.1M1175.5 2012.6V2019.1M1192.65 2012.6V2019.1M1209.8 2012.6V2019.1M1226.95 2012.6V2019.1M1244.1 2012.6V2019.1M1261.25 2012.6V2019.1M1278.4 2012.6V2019.1M1295.55 2012.6V2019.1M1312.7 2012.6V2019.1M1329.85 2012.6V2019.1M1347 2012.6V2019.1M1364.15 2012.6V2019.1M1381.3 2012.6V2019.1M1398.45 2012.6V2019.1M1415.6 2012.6V2019.1M1432.75 2012.6V2019.1" class="tk"/>
<text transform="translate(1154.8 2036.3) rotate(-45)" text-anchor="end">10-14</text>
<text transform="translate(1242.4 2037.3) rotate(-45)" text-anchor="end">35-39</text>
<text transform="translate(1327.8 2037.3) rotate(-45)" text-anchor="end">60-64</text>
<text transform="translate(1414.2 2036.9) rotate(-45)" text-anchor="end">85-89</text>
<polyline points="1106.9,2011.7 1124.05,2012.1 1141.2,2012.1 1158.35,2011 1175.5,2010.3 1192.65,2009.3 1209.8,2008.3 1226.95,2006.9 1244.1,2003.8 1261.25,2002.8 1278.4,1997.9 1295.55,1991.4 1312.7,1984.8 1329.85,1971.7 1347,1961.4 1364.15,1938.3 1381.3,1911.7 1398.45,1877.2 1415.6,1832.1 1432.75,1789" fill="none" stroke="#700870" stroke-width="2.0" stroke-linejoin="round"/>
<g fill="#700870"><circle cx="1106.9" cy="2011.7" r="2.6"/><circle cx="1124.05" cy="2012.1" r="2.6"/><circle cx="1141.2" cy="2012.1" r="2.6"/><circle cx="1158.35" cy="2011" r="2.6"/><circle cx="1175.5" cy="2010.3" r="2.6"/><circle cx="1192.65" cy="2009.3" r="2.6"/><circle cx="1209.8" cy="2008.3" r="2.6"/><circle cx="1226.95" cy="2006.9" r="2.6"/><circle cx="1244.1" cy="2003.8" r="2.6"/><circle cx="1261.25" cy="2002.8" r="2.6"/><circle cx="1278.4" cy="1997.9" r="2.6"/><circle cx="1295.55" cy="1991.4" r="2.6"/><circle cx="1312.7" cy="1984.8" r="2.6"/><circle cx="1329.85" cy="1971.7" r="2.6"/><circle cx="1347" cy="1961.4" r="2.6"/><circle cx="1364.15" cy="1938.3" r="2.6"/><circle cx="1381.3" cy="1911.7" r="2.6"/><circle cx="1398.45" cy="1877.2" r="2.6"/><circle cx="1415.6" cy="1832.1" r="2.6"/><circle cx="1432.75" cy="1789" r="2.6"/></g>
<polyline points="1106.9,2011 1124.05,2011.7 1141.2,2011.4 1158.35,2010 1175.5,2009 1192.65,2008.3 1209.8,2007.2 1226.95,2004.8 1244.1,2001.4 1261.25,1999.7 1278.4,1993.4 1295.55,1986.6 1312.7,1978.6 1329.85,1960.7 1347,1942.8 1364.15,1916.9 1381.3,1883.4 1398.45,1844.5 1415.6,1779.7 1432.75,1736.6" fill="none" stroke="#f0737f" stroke-width="2.0" stroke-linejoin="round"/>
<g fill="#f0737f"><circle cx="1106.9" cy="2011" r="2.6"/><circle cx="1124.05" cy="2011.7" r="2.6"/><circle cx="1141.2" cy="2011.4" r="2.6"/><circle cx="1158.35" cy="2010" r="2.6"/><circle cx="1175.5" cy="2009" r="2.6"/><circle cx="1192.65" cy="2008.3" r="2.6"/><circle cx="1209.8" cy="2007.2" r="2.6"/><circle cx="1226.95" cy="2004.8" r="2.6"/><circle cx="1244.1" cy="2001.4" r="2.6"/><circle cx="1261.25" cy="1999.7" r="2.6"/><circle cx="1278.4" cy="1993.4" r="2.6"/><circle cx="1295.55" cy="1986.6" r="2.6"/><circle cx="1312.7" cy="1978.6" r="2.6"/><circle cx="1329.85" cy="1960.7" r="2.6"/><circle cx="1347" cy="1942.8" r="2.6"/><circle cx="1364.15" cy="1916.9" r="2.6"/><circle cx="1381.3" cy="1883.4" r="2.6"/><circle cx="1398.45" cy="1844.5" r="2.6"/><circle cx="1415.6" cy="1779.7" r="2.6"/><circle cx="1432.75" cy="1736.6" r="2.6"/></g>
<polyline points="1106.9,2009 1124.05,2011 1141.2,2010.3 1158.35,2007.6 1175.5,2006.2 1192.65,2005.5 1209.8,2003.4 1226.95,1999.7 1244.1,1992.1 1261.25,1989.3 1278.4,1977.9 1295.55,1964.8 1312.7,1952.4 1329.85,1927.9 1347,1910.7 1364.15,1869.3 1381.3,1824.5 1398.45,1773.8 1415.6,1699.7 1432.75,1618.3" fill="none" stroke="#879fc6" stroke-width="2.0" stroke-linejoin="round"/>
<g fill="#879fc6"><circle cx="1106.9" cy="2009" r="2.6"/><circle cx="1124.05" cy="2011" r="2.6"/><circle cx="1141.2" cy="2010.3" r="2.6"/><circle cx="1158.35" cy="2007.6" r="2.6"/><circle cx="1175.5" cy="2006.2" r="2.6"/><circle cx="1192.65" cy="2005.5" r="2.6"/><circle cx="1209.8" cy="2003.4" r="2.6"/><circle cx="1226.95" cy="1999.7" r="2.6"/><circle cx="1244.1" cy="1992.1" r="2.6"/><circle cx="1261.25" cy="1989.3" r="2.6"/><circle cx="1278.4" cy="1977.9" r="2.6"/><circle cx="1295.55" cy="1964.8" r="2.6"/><circle cx="1312.7" cy="1952.4" r="2.6"/><circle cx="1329.85" cy="1927.9" r="2.6"/><circle cx="1347" cy="1910.7" r="2.6"/><circle cx="1364.15" cy="1869.3" r="2.6"/><circle cx="1381.3" cy="1824.5" r="2.6"/><circle cx="1398.45" cy="1773.8" r="2.6"/><circle cx="1415.6" cy="1699.7" r="2.6"/><circle cx="1432.75" cy="1618.3" r="2.6"/></g>
<path d="M1127.6 1629H1146.6" stroke="#879fc6" stroke-width="2.0"/>
<circle cx="1137.1" cy="1629" r="2.6" fill="#879fc6"/>
<text x="1155.2" y="1638.78" style="font-size:22.3px">1990</text>
<path d="M1127.6 1657.9H1146.6" stroke="#f0737f" stroke-width="2.0"/>
<circle cx="1137.1" cy="1657.9" r="2.6" fill="#f0737f"/>
<text x="1155.2" y="1665.88" style="font-size:22.3px">2019</text>
<path d="M1127.6 1684.8H1146.6" stroke="#700870" stroke-width="2.0"/>
<circle cx="1137.1" cy="1684.8" r="2.6" fill="#700870"/>
<text x="1155.2" y="1692.58" style="font-size:22.3px">2030</text>
</svg>
</body></html>
